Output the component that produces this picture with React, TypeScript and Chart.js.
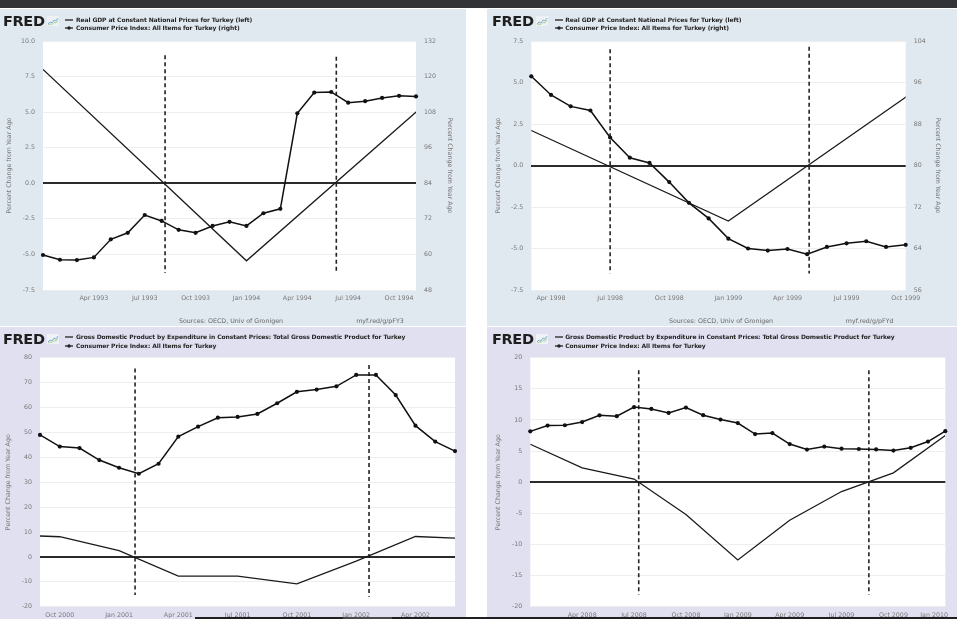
import React, { useEffect, useRef } from 'react';
import { Chart, registerables } from 'chart.js';

Chart.register(...registerables);
Chart.defaults.font.family = "'DejaVu Sans', sans-serif";

// ===== Top-left panel: months counted from Jan 1993 =====
const tlTickMonths = [3, 6, 9, 12, 15, 18, 21];
const tlTickLabels = ['Apr 1993', 'Jul 1993', 'Oct 1993', 'Jan 1994', 'Apr 1994', 'Jul 1994', 'Oct 1994'];
const tlGdpMonths = [0, 12, 24];
const tlGdp = [8.0, -5.45, 7.1];
const tlCpiFirstMonth = 0;
const tlCpi = [59.8, 58.2, 58.1, 59.0, 65.1, 67.3, 73.3, 71.3, 68.3, 67.3, 69.6, 71.0, 69.6, 73.9, 75.4, 107.6, 114.6, 114.8, 111.2, 111.7, 112.8, 113.5, 113.3];
const tlDashMonths = [7.2, 17.3];
const tlDashTop = [9.0, 8.9];
const tlDashBottom = [-6.3, -6.3];

// ===== Top-right panel: months counted from Jan 1998 =====
const trTickMonths = [3, 6, 9, 12, 15, 18, 21];
const trTickLabels = ['Apr 1998', 'Jul 1998', 'Oct 1998', 'Jan 1999', 'Apr 1999', 'Jul 1999', 'Oct 1999'];
const trGdpMonths = [0, 12, 24];
const trGdp = [3.2, -3.35, 6.6];
const trCpiFirstMonth = 2;
const trCpi = [97.2, 93.6, 91.4, 90.6, 85.4, 81.5, 80.5, 76.8, 72.8, 69.8, 65.9, 64.0, 63.6, 63.9, 62.9, 64.3, 65.0, 65.4, 64.3, 64.7];
const trDashMonths = [6.0, 16.1];
const trDashTop = [7.0, 7.15];
const trDashBottom = [-6.5, -6.5];

// ===== Bottom-left panel: months counted from Jul 2000 =====
const blTickMonths = [3, 6, 9, 12, 15, 18, 21];
const blTickLabels = ['Oct 2000', 'Jan 2001', 'Apr 2001', 'Jul 2001', 'Oct 2001', 'Jan 2002', 'Apr 2002'];
const blGdpMonths = [0, 3, 6, 9, 12, 15, 18, 21, 24];
const blGdp = [9.0, 8.1, 2.5, -7.7, -7.7, -10.8, -1.7, 8.2, 7.2];
const blCpiFirstMonth = 2;
const blCpi = [49.0, 44.3, 43.7, 38.9, 35.8, 33.4, 37.4, 48.3, 52.3, 55.9, 56.2, 57.4, 61.7, 66.3, 67.2, 68.5, 73.1, 73.1, 65.0, 52.7, 46.3, 42.5];
const blDashMonths = [6.81, 18.65];
const blDashTop = [75.7, 77.1];
const blDashBottom = [-15.3, -16.0];

// ===== Bottom-right panel: months counted from Jan 2008 =====
const brTickMonths = [3, 6, 9, 12, 15, 18, 21, 24];
const brTickLabels = ['Apr 2008', 'Jul 2008', 'Oct 2008', 'Jan 2009', 'Apr 2009', 'Jul 2009', 'Oct 2009', 'Jan 2010'];
const brGdpMonths = [0, 3, 6, 9, 12, 15, 18, 21, 24];
const brGdp = [6.1, 2.3, 0.5, -5.2, -12.5, -6.1, -1.5, 1.5, 7.5];
const brCpiFirstMonth = 0;
const brCpi = [8.17, 9.1, 9.15, 9.66, 10.74, 10.61, 12.06, 11.77, 11.13, 11.99, 10.76, 10.06, 9.5, 7.73, 7.89, 6.13, 5.24, 5.73, 5.39, 5.33, 5.27, 5.08, 5.53, 6.53, 8.19];
const brDashMonths = [6.27, 19.58];
const brDashTop = [18.0, 18.0];
const brDashBottom = [-18.1, -18.1];

const legendGdpDual = 'Real GDP at Constant National Prices for Turkey (left)';
const legendCpiDual = 'Consumer Price Index: All Items for Turkey (right)';
const legendGdpSingle = 'Gross Domestic Product by Expenditure in Constant Prices: Total Gross Domestic Product for Turkey';
const legendCpiSingle = 'Consumer Price Index: All Items for Turkey';
const axisTitle = 'Percent Change from Year Ago';
const sourceText = 'Sources: OECD, Univ of Gronigen';

type PanelSpec = {
  left: number; top: number; width: number; height: number; bg: string;
  logoX: number; sampleX: number; textX: number; legendY1: number; legendY2: number;
  legend1: string; legend2: string;
  footer?: { link: string; sourceX: number; linkX: number; y: number };
  xMin: number; xMax: number; tickMonths: number[]; tickLabels: string[];
  gdpMonths: number[]; gdp: number[]; cpiFirstMonth: number; cpi: number[];
  dashMonths: number[]; dashTop: number[]; dashBottom: number[];
  yMin: number; yMax: number; yStep: number; yDecimals: number;
  y2?: { min: number; max: number; step: number; width: number; titlePad: number };
  padTop: number; padRight: number; leftW: number; xAxisH: number; leftTitlePad: number;
};

const TOP_BG = '#e1e9f0';
const BOTTOM_BG = '#e1e0f0';

const specs: PanelSpec[] = [
  {
    left: 0, top: 9, width: 466, height: 317, bg: TOP_BG,
    logoX: 3, sampleX: 65, textX: 76, legendY1: 11.3, legendY2: 19.3,
    legend1: legendGdpDual, legend2: legendCpiDual,
    footer: { link: 'myf.red/g/pFY3', sourceX: 231, linkX: 380, y: 312 },
    xMin: 0, xMax: 22, tickMonths: tlTickMonths, tickLabels: tlTickLabels,
    gdpMonths: tlGdpMonths, gdp: tlGdp, cpiFirstMonth: tlCpiFirstMonth, cpi: tlCpi,
    dashMonths: tlDashMonths, dashTop: tlDashTop, dashBottom: tlDashBottom,
    yMin: -7.5, yMax: 10, yStep: 2.5, yDecimals: 1,
    y2: { min: 48, max: 132, step: 12, width: 50, titlePad: 12.9 },
    padTop: 32, padRight: 0, leftW: 43, xAxisH: 36, leftTitlePad: 5.5,
  },
  {
    left: 487, top: 9, width: 470, height: 317, bg: TOP_BG,
    logoX: 5, sampleX: 67.7, textX: 78.3, legendY1: 11.3, legendY2: 19.3,
    legend1: legendGdpDual, legend2: legendCpiDual,
    footer: { link: 'myf.red/g/pFYd', sourceX: 234, linkX: 382.7, y: 312 },
    xMin: 2, xMax: 21, tickMonths: trTickMonths, tickLabels: trTickLabels,
    gdpMonths: trGdpMonths, gdp: trGdp, cpiFirstMonth: trCpiFirstMonth, cpi: trCpi,
    dashMonths: trDashMonths, dashTop: trDashTop, dashBottom: trDashBottom,
    yMin: -7.5, yMax: 7.5, yStep: 2.5, yDecimals: 1,
    y2: { min: 56, max: 104, step: 8, width: 51.3, titlePad: 15.2 },
    padTop: 32, padRight: 0, leftW: 44.3, xAxisH: 36, leftTitlePad: 7.2,
  },
  {
    left: 0, top: 327, width: 466, height: 292, bg: BOTTOM_BG,
    logoX: 3, sampleX: 65, textX: 76, legendY1: 10.3, legendY2: 18.7,
    legend1: legendGdpSingle, legend2: legendCpiSingle,
    xMin: 2, xMax: 23, tickMonths: blTickMonths, tickLabels: blTickLabels,
    gdpMonths: blGdpMonths, gdp: blGdp, cpiFirstMonth: blCpiFirstMonth, cpi: blCpi,
    dashMonths: blDashMonths, dashTop: blDashTop, dashBottom: blDashBottom,
    yMin: -20, yMax: 80, yStep: 10, yDecimals: 0,
    padTop: 30.7, padRight: 11, leftW: 40, xAxisH: 12.3, leftTitlePad: 4.9,
  },
  {
    left: 487, top: 327, width: 470, height: 292, bg: BOTTOM_BG,
    logoX: 5, sampleX: 67.7, textX: 78.3, legendY1: 10.3, legendY2: 18.7,
    legend1: legendGdpSingle, legend2: legendCpiSingle,
    xMin: 0, xMax: 24, tickMonths: brTickMonths, tickLabels: brTickLabels,
    gdpMonths: brGdpMonths, gdp: brGdp, cpiFirstMonth: brCpiFirstMonth, cpi: brCpi,
    dashMonths: brDashMonths, dashTop: brDashTop, dashBottom: brDashBottom,
    yMin: -20, yMax: 20, yStep: 5, yDecimals: 0,
    padTop: 30.7, padRight: 11.7, leftW: 43.3, xAxisH: 12.3, leftTitlePad: 7.9,
  },
];

const plotBg = {
  id: 'plotBg',
  beforeDraw(chart: any) {
    const { ctx, chartArea: a } = chart;
    ctx.save();
    ctx.fillStyle = '#ffffff';
    ctx.fillRect(a.left, a.top, a.right - a.left, a.bottom - a.top);
    ctx.restore();
  },
};

// keep the last x label inside the canvas (right-aligned) when it would overflow
const keepLabelsInside = {
  id: 'keepLabelsInside',
  beforeDraw(chart: any) {
    const sc = chart.scales.x;
    if (!sc || !sc.getLabelItems) return;
    const items = sc.getLabelItems(chart.chartArea);
    const last = items[items.length - 1];
    if (!last) return;
    const ctx = chart.ctx;
    ctx.save();
    ctx.font = last.font.string;
    const w = ctx.measureText(String(last.label)).width;
    ctx.restore();
    const tr = last.options.translation;
    if (tr[0] + w / 2 > chart.width - 2) {
      last.options.textAlign = 'right';
      last.options.translation = [chart.width - 9, tr[1]];
    }
  },
};

const GRAY = '#777777';
const SMALL = 6.3;

function isZero(c: any) {
  return c && c.tick && Math.abs(c.tick.value) < 1e-9;
}

function buildConfig(s: PanelSpec): any {
  const datasets: any[] = [
    {
      data: s.gdpMonths.map((m, i) => ({ x: m, y: s.gdp[i] })),
      borderColor: '#1b1b1b', borderWidth: 1.3, pointRadius: 0, yAxisID: 'y', order: 2,
    },
    {
      data: s.cpi.map((v, i) => ({ x: s.cpiFirstMonth + i, y: v })),
      borderColor: '#111111', borderWidth: 1.5, pointRadius: 2.1,
      pointBackgroundColor: '#111111', pointBorderColor: '#111111', pointBorderWidth: 0,
      yAxisID: s.y2 ? 'y2' : 'y', clip: 6, order: 1,
    },
  ];
  s.dashMonths.forEach((m, i) => {
    datasets.push({
      data: [{ x: m, y: s.dashTop[i] }, { x: m, y: s.dashBottom[i] }],
      borderColor: '#222222', borderWidth: 1.6, borderDash: [4, 3], pointRadius: 0, yAxisID: 'y', order: 3,
    });
  });

  const scales: any = {
    x: {
      type: 'linear', min: s.xMin, max: s.xMax,
      afterBuildTicks: (sc: any) => { sc.ticks = s.tickMonths.map((v) => ({ value: v })); },
      ticks: {
        autoSkip: false, maxRotation: 0, minRotation: 0, padding: 4.5,
        font: { size: SMALL }, color: GRAY,
        callback: (_v: any, i: number) => s.tickLabels[i],
      },
      grid: { display: false, drawTicks: false, tickLength: 0 }, border: { display: false },
      afterFit: (sc: any) => { sc.height = s.xAxisH; sc.paddingLeft = 0; sc.paddingRight = 0; },
    },
    y: {
      type: 'linear', position: 'left', min: s.yMin, max: s.yMax,
      ticks: {
        stepSize: s.yStep, padding: 8, font: { size: SMALL }, color: GRAY,
        callback: (v: any) => Number(v).toFixed(s.yDecimals),
      },
      grid: {
        drawTicks: false, tickLength: 0,
        color: (c: any) => (isZero(c) ? '#2b2b2b' : '#eeeeee'),
        lineWidth: (c: any) => (isZero(c) ? 2 : 1),
      },
      border: { display: false },
      title: { display: true, text: axisTitle, color: GRAY, font: { size: SMALL }, padding: { top: s.leftTitlePad, bottom: 0 } },
      afterFit: (sc: any) => { sc.width = s.leftW; sc.paddingTop = 0; sc.paddingBottom = 0; },
    },
  };
  if (s.y2) {
    const y2 = s.y2;
    scales.y2 = {
      type: 'linear', position: 'right', min: y2.min, max: y2.max,
      ticks: { stepSize: y2.step, padding: 8, font: { size: SMALL }, color: GRAY, callback: (v: any) => String(v) },
      grid: { display: false, drawTicks: false, tickLength: 0 }, border: { display: false },
      title: { display: true, text: axisTitle, color: GRAY, font: { size: SMALL }, padding: { top: y2.titlePad, bottom: 0 } },
      afterFit: (sc: any) => { sc.width = y2.width; sc.paddingTop = 0; sc.paddingBottom = 0; },
    };
  }

  return {
    type: 'line',
    data: { datasets },
    options: {
      responsive: false, maintainAspectRatio: false, animation: false, devicePixelRatio: 1,
      events: [],
      layout: { padding: { top: s.padTop, right: s.padRight, bottom: 0, left: 0 } },
      plugins: { legend: { display: false }, tooltip: { enabled: false }, title: { display: false } },
      scales,
    },
    plugins: [plotBg, keepLabelsInside],
  };
}

const FONT = "'DejaVu Sans', sans-serif";

function FredIcon() {
  return (
    <svg width={12} height={10} style={{ display: 'block' }}>
      <rect x={0} y={0} width={12} height={10} fill="#eef2f5" />
      <polyline points="1,8 3,6 5,7 7,4 9,5 11,2" fill="none" stroke="#7fb0cf" strokeWidth={1} />
      <polyline points="1,9 3,8 5,8.5 7,6.5 9,7 11,4.5" fill="none" stroke="#9fcf8f" strokeWidth={0.9} />
    </svg>
  );
}

function Panel({ spec }: { spec: PanelSpec }) {
  const ref = useRef<HTMLCanvasElement>(null);
  useEffect(() => {
    const chart = new Chart(ref.current as HTMLCanvasElement, buildConfig(spec));
    return () => chart.destroy();
  }, [spec]);
  const legendText: React.CSSProperties = {
    position: 'absolute', left: spec.textX, fontFamily: FONT, fontWeight: 'bold', fontSize: 6,
    letterSpacing: '-0.1px', lineHeight: '8px', height: 8, color: '#262626', whiteSpace: 'nowrap',
  };
  return (
    <div style={{ position: 'absolute', left: spec.left, top: spec.top, width: spec.width, height: spec.height, background: spec.bg, overflow: 'hidden' }}>
      <canvas ref={ref} width={spec.width} height={spec.height} style={{ position: 'absolute', left: 0, top: 0, width: spec.width, height: spec.height }} />
      <div style={{ position: 'absolute', left: spec.logoX, top: 4.7, fontFamily: FONT, fontWeight: 'bold', fontSize: 14.5, lineHeight: '14.5px', letterSpacing: '-0.35px', color: '#1e1e1e' }}>FRED</div>
      <div style={{ position: 'absolute', left: spec.logoX + 44, top: 7 }}><FredIcon /></div>
      <svg style={{ position: 'absolute', left: spec.sampleX, top: spec.legendY1 - 3 }} width={8} height={6}>
        <line x1={0} y1={3} x2={8} y2={3} stroke="#222" strokeWidth={1.3} />
      </svg>
      <svg style={{ position: 'absolute', left: spec.sampleX, top: spec.legendY2 - 3 }} width={8} height={6}>
        <line x1={0} y1={3} x2={8} y2={3} stroke="#222" strokeWidth={1.3} />
        <circle cx={4} cy={3} r={1.7} fill="#222" />
      </svg>
      <div style={{ ...legendText, top: spec.legendY1 - 4 }}>{spec.legend1}</div>
      <div style={{ ...legendText, top: spec.legendY2 - 4 }}>{spec.legend2}</div>
      {spec.footer && (
        <>
          <div style={{ position: 'absolute', left: spec.footer.sourceX - 100, width: 200, top: spec.footer.y - 4, lineHeight: '8px', textAlign: 'center', fontFamily: FONT, fontSize: SMALL, color: '#666' }}>{sourceText}</div>
          <div style={{ position: 'absolute', left: spec.footer.linkX - 60, width: 120, top: spec.footer.y - 4, lineHeight: '8px', textAlign: 'center', fontFamily: FONT, fontSize: SMALL, color: '#666' }}>{spec.footer.link}</div>
        </>
      )}
    </div>
  );
}

export default function App() {
  return (
    <div style={{ position: 'fixed', left: 0, top: 0, width: 957, height: 619, background: '#ffffff', overflow: 'hidden' }}>
      <div style={{ position: 'absolute', left: 0, top: 0, width: 957, height: 8, background: '#313336' }} />
      {specs.map((s, i) => <Panel key={i} spec={s} />)}
      <div style={{ position: 'absolute', left: 195, top: 617, width: 762, height: 2, background: '#1f1f1f' }} />
      <div style={{ position: 'absolute', left: 343, top: 617, width: 49, height: 2, background: '#4a4a4a' }} />
    </div>
  );
}
